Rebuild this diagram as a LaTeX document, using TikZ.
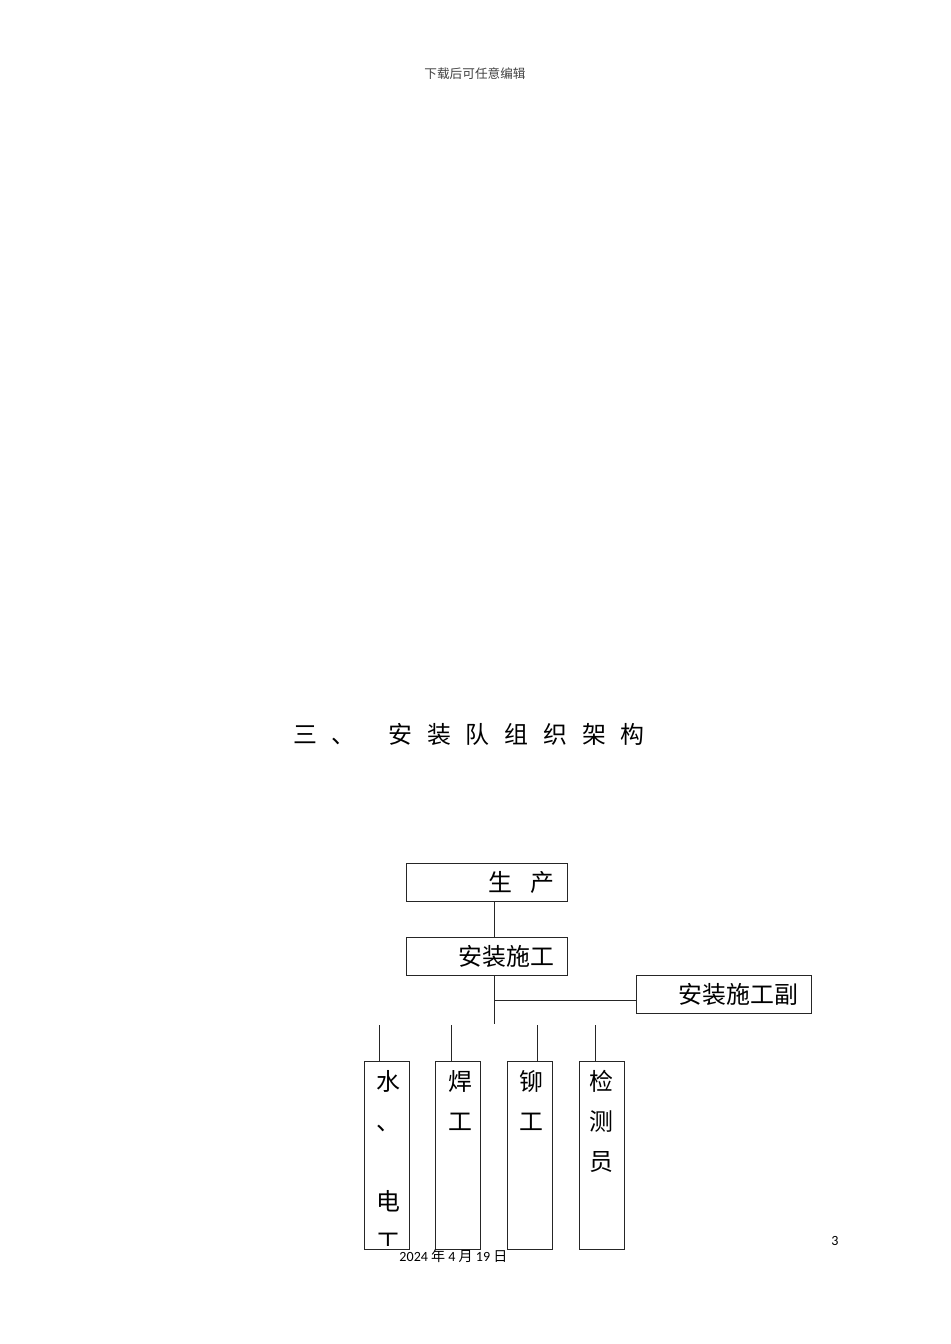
\documentclass[tikz,border=0pt]{standalone}
\usepackage{fontspec}
\setmainfont{Carlito}
\newfontfamily\cjk{Noto Sans CJK SC}
\usetikzlibrary{calc}

\begin{document}
\begin{tikzpicture}[x=0.025cm, y=-0.025cm, line width=0.7pt, draw=black!85,
    box/.style={draw, rectangle, inner xsep=0.325cm, inner ysep=0pt, minimum height=0.95cm,
      text width=#1, align=right, font=\cjk\fontsize{17pt}{17pt}\selectfont},
    wbox/.style={draw, rectangle, inner sep=0pt, minimum width=1.125cm, minimum height=4.675cm},
    wtext/.style={anchor=north, inner sep=0pt, align=center, font=\cjk\fontsize{17pt}{1cm}\selectfont}]
  \useasboundingbox (0,0) rectangle (950,1344);

  \node[font=\cjk\fontsize{9pt}{11pt}\selectfont, text=black!75] (hd) at (475,74) {下载后可任意编辑};
  \node[anchor=west, inner sep=0pt, font=\cjk\fontsize{17pt}{17pt}\selectfont] (title) at (293,734)
    {三\hspace{0.35cm}、\hspace{0.83cm}安\hspace{0.37cm}装\hspace{0.37cm}队\hspace{0.37cm}组\hspace{0.37cm}织\hspace{0.37cm}架\hspace{0.37cm}构};

  \node[box=3.35cm] (sc) at (487,882) {生\hspace{0.435cm}产};
  \node[box=3.35cm] (az) at (487,956.5) {安装施工};
  \node[box=3.7cm] (fz) at (724,994) {安装施工副};

  \coordinate (br) at (494,1000);
  \coordinate (tr) at (494,1024);
  \draw (sc.south -| tr) -- (az.north -| tr);
  \draw (az.south -| tr) -- (tr);
  \draw (br) -- (br -| fz.west);

  \node[wbox] (sd) at (386.5,1155.5) {};
  \node[wbox] (hj) at (458,1155.5) {};
  \node[wbox] (ml) at (530,1155.5) {};
  \node[wbox] (jc) at (601.5,1155.5) {};

  \coordinate (p1) at (379,1025);
  \coordinate (p2) at (451,1025);
  \coordinate (p3) at (537,1025);
  \coordinate (p4) at (595,1025);
  \draw (p1) -- (p1 |- sd.north);
  \draw (p2) -- (p2 |- hj.north);
  \draw (p3) -- (p3 |- ml.north);
  \draw (p4) -- (p4 |- jc.north);

  \begin{scope}
    \clip (364,1062) rectangle (409,1245);
    \node[wtext] (sdt) at (388,1070) {水\\、\\\mbox{}\\电\\工};
  \end{scope}
  \node[wtext] (hjt) at (460,1070) {焊\\工};
  \node[wtext] (mlt) at (531.5,1070) {铆\\工};
  \node[wtext] (jct) at (601.5,1070) {检\\测\\员};

  \node[anchor=west, inner sep=0pt, font=\fontsize{10pt}{12pt}\selectfont] (ft) at (399,1256)
    {2024 {\cjk 年} 4 {\cjk 月} 19 {\cjk 日}};
  \node[font=\fontsize{10pt}{12pt}\selectfont] (pg) at (835,1241) {3};
\end{tikzpicture}
\end{document}
